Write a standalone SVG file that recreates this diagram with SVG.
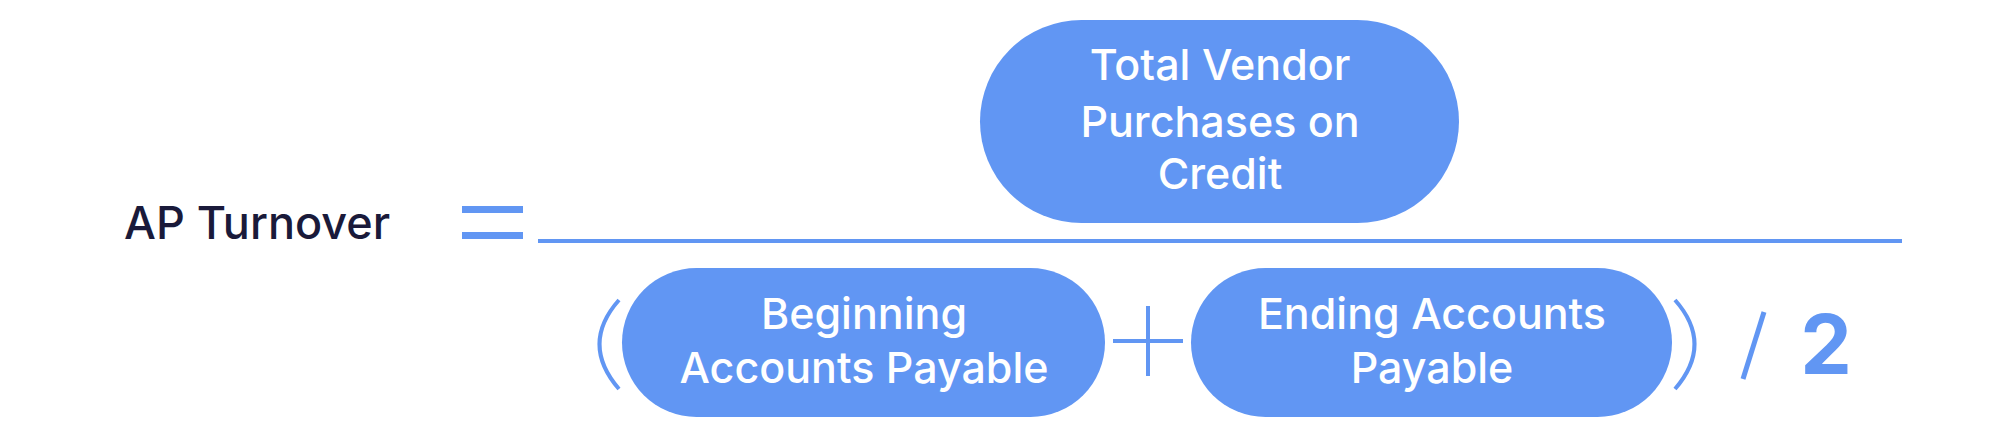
<svg xmlns="http://www.w3.org/2000/svg" width="2000" height="444" viewBox="0 0 2000 444">
<style>
.pill{fill:#6196f3}
.t{font-family:Inter,"Liberation Sans",sans-serif;font-size:43px;font-weight:500;fill:#fff;text-anchor:middle}
.b{stroke:#6196f3;fill:none}
</style>
<rect width="2000" height="444" fill="#fff"/>
<g id="label"><text x="124" y="239" font-family="Inter,'Liberation Sans',sans-serif" font-size="45" font-weight="500" fill="#1a1a3a">AP Turnover</text></g>
<g id="ops">
<rect x="462" y="206" width="61" height="7" fill="#6196f3"/>
<rect x="462" y="232" width="61" height="7" fill="#6196f3"/>
<rect x="538" y="239" width="1364" height="4" fill="#6196f3"/>
<path class="b" stroke-width="4" d="M619 300 Q580 344 619 389"/>
<path class="b" stroke-width="4" d="M1675 300 Q1714 344 1675 389"/>
<path class="b" stroke-width="4" d="M1113 341 H1183 M1148 306 V376"/>
<path class="b" stroke-width="5" d="M1764 312 L1743 379"/>
<text x="1826" y="374" font-family="Inter,'Liberation Sans',sans-serif" font-size="82" font-weight="700" fill="#6196f3" text-anchor="middle">2</text>
</g>
<g id="top"><rect class="pill" x="980" y="20" width="479" height="203" rx="101.5"/>
<text class="t" x="1220" y="80">Total Vendor</text><text class="t" x="1220" y="137">Purchases on</text><text class="t" x="1220" y="189">Credit</text></g>
<g id="begin"><rect class="pill" x="622" y="268" width="483" height="149" rx="74.5"/>
<text class="t" x="864" y="329">Beginning</text><text class="t" x="864" y="383">Accounts Payable</text></g>
<g id="end"><rect class="pill" x="1191" y="268" width="481" height="149" rx="74.5"/>
<text class="t" x="1432" y="329">Ending Accounts</text><text class="t" x="1432" y="383">Payable</text></g>
<g id="connectors"/>
</svg>
